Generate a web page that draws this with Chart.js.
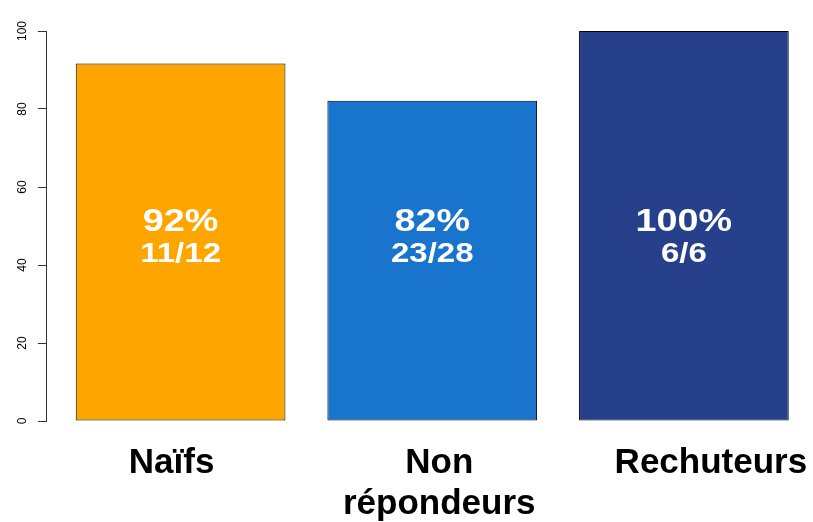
<!DOCTYPE html>
<html>
<head>
<meta charset="utf-8">
<script src="https://cdn.jsdelivr.net/npm/chart.js@4/dist/chart.umd.min.js"></script>
<style>
html,body{margin:0;padding:0;background:#fff;}
canvas{display:block;}
</style>
</head>
<body>
<canvas id="c" width="813" height="522"></canvas>
<script>
// ---- data ----
const categories = ["Naïfs", "Non\nrépondeurs", "Rechuteurs"];
const percentValues = [91.67, 82.14, 100];
const percentLabels = ["92%", "82%", "100%"];
const countLabels = ["11/12", "23/28", "6/6"];
const yTicks = [0, 20, 40, 60, 80, 100];
const barColors = ["#FFA500", "#1874CD", "#27408B"];

const labelOffsets = [-9, 7, 27];

const rotatedYLabels = {
  id: 'rotatedYLabels',
  afterDraw(chart) {
    const ctx = chart.ctx, ys = chart.scales.y;
    ctx.save();
    ctx.fillStyle = '#000';
    ctx.font = '12px "Liberation Sans", Arial, sans-serif';
    ctx.textAlign = 'center';
    ctx.textBaseline = 'middle';
    ys.ticks.forEach(t => {
      const y = ys.getPixelForValue(t.value);
      ctx.save();
      ctx.translate(23, y);
      ctx.rotate(-Math.PI / 2);
      ctx.fillText(String(t.value), 0, 0);
      ctx.restore();
    });
    ctx.restore();
  }
};

const categoryLabels = {
  id: 'categoryLabels',
  afterDraw(chart) {
    const ctx = chart.ctx, xs = chart.scales.x;
    ctx.save();
    ctx.fillStyle = '#000';
    ctx.font = 'bold 35px "Liberation Sans", Arial, sans-serif';
    ctx.textAlign = 'center';
    ctx.textBaseline = 'alphabetic';
    categories.forEach((c, i) => {
      const x = xs.getPixelForValue(i) + labelOffsets[i];
      c.split('\n').forEach((line, j) => {
        ctx.fillText(line, x, 473 + j * 41);
      });
    });
    ctx.restore();
  }
};

const barTexts = {
  id: 'barTexts',
  afterDatasetsDraw(chart) {
    const ctx = chart.ctx, xs = chart.scales.x;
    ctx.save();
    ctx.fillStyle = '#fff';
    ctx.textAlign = 'center';
    ctx.textBaseline = 'alphabetic';
    percentLabels.forEach((p, i) => {
      const x = xs.getPixelForValue(i);
      ctx.save();
      ctx.translate(x, 0);
      ctx.scale(1.18, 1);
      ctx.font = 'bold 32px "Liberation Sans", Arial, sans-serif';
      ctx.fillText(p, 0, 231);
      ctx.font = 'bold 28px "Liberation Sans", Arial, sans-serif';
      ctx.fillText(countLabels[i], 0, 262);
      ctx.restore();
    });
    ctx.restore();
  }
};

new Chart(document.getElementById('c'), {
  type: 'bar',
  data: {
    datasets: [{
      data: percentValues.map((v, i) => ({ x: i, y: v })),
      backgroundColor: barColors,
      borderColor: '#000',
      borderWidth: 1,
      borderSkipped: false,
      barPercentage: 0.8333,
      categoryPercentage: 1
    }]
  },
  options: {
    responsive: false,
    animation: false,
    devicePixelRatio: 1,
    layout: { padding: { top: 31, bottom: 101, right: 0, left: 0 } },
    plugins: { legend: { display: false }, tooltip: { enabled: false } },
    scales: {
      x: {
        type: 'linear',
        display: false,
        min: -0.5348,
        max: 2.513,
        offset: false,
        afterBuildTicks(scale) { scale.ticks = categories.map((c, i) => ({ value: i })); }
      },
      y: {
        min: 0, max: 100,
        afterBuildTicks(scale) { scale.ticks = yTicks.map(v => ({ value: v })); },
        afterFit(scale) { scale.width = 46; },
        ticks: { display: false },
        grid: { drawOnChartArea: false, drawTicks: true, tickLength: 8, color: '#333', lineWidth: 1 },
        border: { display: true, color: '#333', width: 1 }
      }
    }
  },
  plugins: [rotatedYLabels, categoryLabels, barTexts]
});
</script>
</body>
</html>
